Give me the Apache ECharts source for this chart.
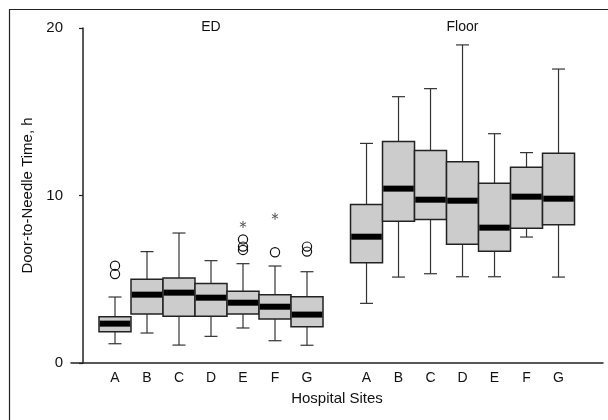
<!DOCTYPE html>
<html><head><meta charset="utf-8">
<script src="https://cdn.jsdelivr.net/npm/echarts@6/dist/echarts.min.js"></script>
<style>html,body{margin:0;padding:0;background:#fff}#c{width:608px;height:420px}</style>
</head><body><div id="c"></div>
<script>
// ---------- data ----------
const sites = ['A', 'B', 'C', 'D', 'E', 'F', 'G'];
const groups = ['ED', 'Floor'];
// each box: [low whisker, Q1, median, Q3, high whisker]
const edBoxes = [
  [1.15, 1.87, 2.35, 2.76, 3.94],
  [1.79, 2.93, 4.08, 5.00, 6.65],
  [1.07, 2.79, 4.20, 5.07, 7.76],
  [1.59, 2.79, 3.90, 4.74, 6.11],
  [2.09, 2.93, 3.60, 4.28, 5.93],
  [1.33, 2.63, 3.36, 4.08, 5.79],
  [1.06, 2.17, 2.89, 3.96, 5.45]
];
const floorBoxes = [
  [3.56, 5.99, 7.54, 9.47, 13.11],
  [5.13, 8.46, 10.41, 13.23, 15.90],
  [5.33, 8.56, 9.75, 12.69, 16.38],
  [5.15, 7.09, 9.69, 12.02, 18.99],
  [5.15, 6.67, 8.08, 10.73, 13.69],
  [7.52, 8.04, 9.93, 11.68, 12.56],
  [5.13, 8.26, 9.81, 12.52, 17.55]
];
// outliers (circles) and extremes (asterisks): [site index, value]
const edOutliers = [[0, 5.81], [0, 5.31], [4, 7.38], [4, 6.95], [4, 6.75], [5, 6.61], [6, 6.95], [6, 6.65]];
const edExtremes = [[4, 8.27], [5, 8.76]];
const yTicks = [0, 10, 20];
const xTitle = 'Hospital Sites';
const yTitle = 'Door-to-Needle Time, h';

// ---------- layout ----------
const ED_START = 1, FLOOR_START = 8.86;
const edPos = sites.map((s, i) => ED_START + i);
const floorPos = sites.map((s, i) => FLOOR_START + i);
const allPos = edPos.concat(floorPos);
const allLabels = sites.concat(sites);

const boxData = edBoxes.map((b, i) => [edPos[i]].concat(b))
  .concat(floorBoxes.map((b, i) => [floorPos[i]].concat(b)));
const outData = edOutliers.map(d => [edPos[d[0]], d[1]]);
const extData = edExtremes.map(d => [edPos[d[0]], d[1]]);
const groupData = [[edPos[3], yTicks[2], groups[0]], [floorPos[3], yTicks[2], groups[1]]];

const FONT = '"Liberation Sans", Arial, sans-serif';
const INK = '#222';

function renderBox(params, api) {
  const x = api.value(0);
  const lo = api.coord([x, api.value(1)])[1];
  const q1 = api.coord([x, api.value(2)])[1];
  const md = api.coord([x, api.value(3)]);
  const q3 = api.coord([x, api.value(4)])[1];
  const hi = api.coord([x, api.value(5)])[1];
  const cx = md[0];
  const bw = api.size([1, 0])[0];
  const half = bw / 2, cap = 6.5;
  const ws = { stroke: '#333', lineWidth: 1.2 };
  return {
    type: 'group',
    children: [
      { type: 'line', shape: { x1: cx, y1: q3, x2: cx, y2: hi }, style: ws },
      { type: 'line', shape: { x1: cx, y1: q1, x2: cx, y2: lo }, style: ws },
      { type: 'line', shape: { x1: cx - cap, y1: hi, x2: cx + cap, y2: hi }, style: ws },
      { type: 'line', shape: { x1: cx - cap, y1: lo, x2: cx + cap, y2: lo }, style: ws },
      { type: 'rect', shape: { x: cx - half, y: q3, width: bw, height: q1 - q3 },
        style: { fill: '#cccccc', stroke: INK, lineWidth: 1.5 } },
      { type: 'rect', shape: { x: cx - half + 0.75, y: md[1] - 3, width: bw - 1.5, height: 6 },
        style: { fill: '#000' } }
    ]
  };
}
function renderCircle(params, api) {
  const p = api.coord([api.value(0), api.value(1)]);
  return { type: 'circle', shape: { cx: p[0], cy: p[1], r: 4.6 },
    style: { fill: null, stroke: '#111', lineWidth: 1.2 } };
}
function renderStar(params, api) {
  const p = api.coord([api.value(0), api.value(1)]);
  const r = 3.6, s = { stroke: '#555', lineWidth: 1 };
  const ch = [];
  for (let k = 0; k < 3; k++) {
    const a = Math.PI / 2 + k * Math.PI / 3;
    ch.push({ type: 'line', shape: { x1: p[0] - r * Math.cos(a), y1: p[1] - r * Math.sin(a),
      x2: p[0] + r * Math.cos(a), y2: p[1] + r * Math.sin(a) }, style: s });
  }
  return { type: 'group', children: ch };
}
function renderGroupLabel(params, api) {
  const p = api.coord([api.value(0), api.value(1)]);
  return { type: 'text', x: p[0], y: p[1] - 1,
    style: { text: groupData[params.dataIndex][2], fill: '#111', font: '14px ' + FONT,
      align: 'center', verticalAlign: 'middle' } };
}

const chart = echarts.init(document.getElementById('c'), null, { renderer: 'canvas' });
chart.setOption({
  backgroundColor: '#fff',
  animation: false,
  textStyle: { fontFamily: FONT, color: '#111' },
  graphic: [{ type: 'rect', shape: { x: 9.5, y: 9.5, width: 640, height: 440 },
    style: { fill: null, stroke: INK, lineWidth: 1.2 }, silent: true }],
  grid: { left: 71, right: 5, top: 28, bottom: 57, containLabel: false, outerBoundsMode: 'none' },
  xAxis: {
    type: 'value', min: -0.375, max: 16.25,
    splitLine: { show: false },
    axisTick: { show: false },
    axisLine: { show: true, onZero: false, lineStyle: { color: INK, width: 1.5 } },
    axisLabel: {
      customValues: allPos, color: '#111', fontSize: 14, fontFamily: FONT, margin: 8,
      formatter: function (v) {
        for (let i = 0; i < allPos.length; i++) if (Math.abs(allPos[i] - v) < 1e-6) return allPos.length ? allLabels[i] : '';
        return '';
      }
    },
    name: xTitle, nameLocation: 'middle', nameGap: 28,
    nameTextStyle: { fontSize: 15, color: '#111', fontFamily: FONT }
  },
  yAxis: {
    type: 'value', min: yTicks[0], max: yTicks[yTicks.length - 1], interval: yTicks[1] - yTicks[0],
    splitLine: { show: false },
    axisLine: { show: true, lineStyle: { color: INK, width: 1.5 } },
    axisTick: { show: true, length: 4, lineStyle: { color: INK, width: 1.2 } },
    axisLabel: { color: '#111', fontSize: 15, fontFamily: FONT, margin: 8 },
    name: yTitle, nameLocation: 'middle', nameGap: 36,
    nameTextStyle: { fontSize: 15, color: '#111', fontFamily: FONT }
  },
  series: [
    { type: 'custom', renderItem: renderBox, data: boxData, encode: { x: 0, y: [1, 2, 3, 4, 5] }, clip: false },
    { type: 'custom', renderItem: renderCircle, data: outData, encode: { x: 0, y: 1 } },
    { type: 'custom', renderItem: renderStar, data: extData, encode: { x: 0, y: 1 } },
    { type: 'custom', renderItem: renderGroupLabel, data: groupData.map(d => [d[0], d[1]]), encode: { x: 0, y: 1 }, clip: false }
  ]
});
</script>
</body></html>
